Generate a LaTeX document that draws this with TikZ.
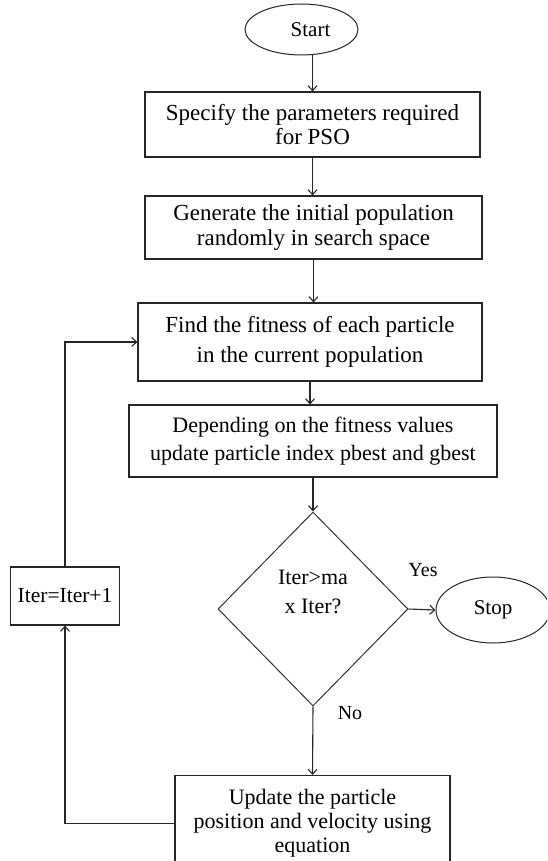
\documentclass[tikz,border=0pt]{standalone}
\usepackage{fontspec}
\setmainfont{Liberation Serif}
\usetikzlibrary{arrows.meta,shapes.geometric}
\begin{document}
\begin{tikzpicture}[x=1pt,y=-1pt,
  box/.style={draw=black!85, line width=1.1pt, rectangle, inner sep=0pt, align=center, font=\fontsize{22}{24}\selectfont},
  term/.style={draw=black!85, ellipse, line width=1pt, inner sep=0pt, font=\fontsize{21}{24}\selectfont},
  arr/.style={-{Straight Barb[length=5pt,width=9pt]}, line width=1.1pt, draw=black!85},
  lbl/.style={font=\fontsize{20}{22}\selectfont, inner sep=0pt}]
\useasboundingbox (0,0) rectangle (547,861);
\clip (0,0) rectangle (547,861);
\node[term, minimum width=113pt, minimum height=51pt] (start) at (301.5,29.5) {\hspace*{18pt}Start};
\node[box, minimum width=335pt, minimum height=65pt, font=\fontsize{23}{24}\selectfont] (b1) at (312.5,124.5) {Specify the parameters required\\for PSO};
\node[box, minimum width=337pt, minimum height=63pt, font=\fontsize{23}{25}\selectfont] (b2) at (313.5,227.5) {Generate the initial population\\randomly in search space};
\node[box, minimum width=344pt, minimum height=78pt, font=\fontsize{23}{30}\selectfont] (b3) at (310,342) {Find the fitness of each particle\\in the current population};
\node[box, minimum width=368pt, minimum height=72pt, font=\fontsize{22}{28}\selectfont] (b4) at (313,441) {Depending on the fitness values\\update particle index pbest and gbest};
\node[draw=black!80, diamond, line width=1pt, minimum width=190pt, minimum height=194pt, inner sep=0pt] (dec) at (313,609) {};
\node[align=center, inner sep=0pt, font=\fontsize{22}{29}\selectfont] (dect) at (313,592) {Iter>ma\\x Iter?};
\node[term, minimum width=114pt, minimum height=66pt] (stop) at (493,610) {Stop};
\node[box, minimum width=109pt, minimum height=58pt, font=\fontsize{21.5}{24}\selectfont] (it) at (65,596) {Iter=Iter+1};
\node[box, minimum width=275pt, minimum height=95pt, anchor=north] (b5) at (312.5,775) {Update the particle\\position and velocity using\\equation};
\node[lbl] (yes) at (423,570) {Yes};
\node[lbl] (no) at (350,713) {No};
\draw[arr] (b1.north |- start.south) -- (b1.north);
\draw[arr] (b1.south) -- (b1.south |- b2.north);
\draw[arr] (b2.south) -- (b2.south |- b3.north);
\draw[arr] (b3.south) -- (b3.south |- b4.north);
\draw[arr] (b4.south) -- (dec.north);
\draw[arr] (dec.east) -- (stop.west);
\draw[arr] (dec.south) -- (b5.north);
\draw[arr] (b5.west) -- (b5.west -| it.south) -- (it.south);
\draw[arr] (it.north) -- (it.north |- b3.west) -- (b3.west);
\end{tikzpicture}
\end{document}
